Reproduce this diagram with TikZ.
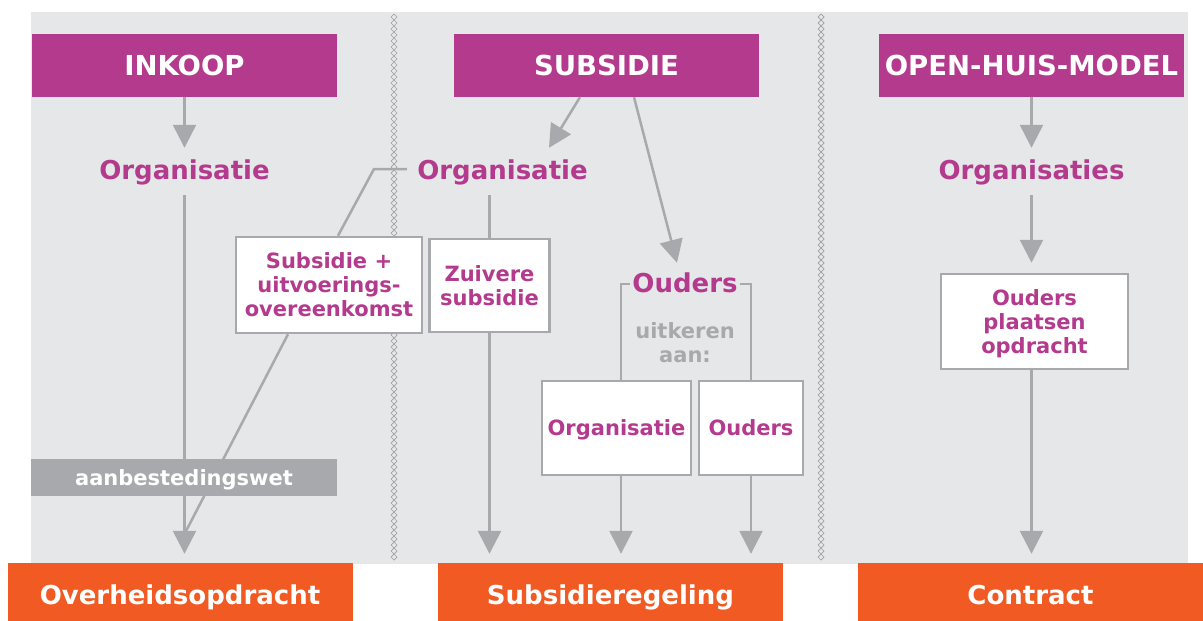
\documentclass[tikz,border=0pt]{standalone}
\usepackage{fontspec}
\setmainfont{DejaVu Sans}
\usetikzlibrary{arrows.meta,calc}
\definecolor{mag}{HTML}{B33A8D}
\definecolor{orng}{HTML}{F15A22}
\definecolor{bgg}{HTML}{E6E7E8}
\definecolor{lg}{HTML}{A7A9AC}
\definecolor{divc}{HTML}{A0A0A0}
\newcommand{\bigf}{\fontsize{26}{30}\selectfont\bfseries}
\newcommand{\ttlf}{\fontsize{27.5}{30}\selectfont\bfseries}
\newcommand{\smf}{\fontsize{21}{24}\selectfont\bfseries}
\begin{document}
\begin{tikzpicture}[x=1pt,y=-1pt,
 ttl/.style={fill=mag,text=white,font=\ttlf,minimum width=305pt,minimum height=63pt,inner sep=0pt,text height=20pt,text depth=0pt},
 bot/.style={fill=orng,text=white,font=\bigf,minimum width=345pt,minimum height=64pt,inner sep=0pt,text height=19pt,text depth=0pt},
 lbl/.style={text=mag,font=\bigf,inner sep=0pt,minimum height=47pt,text height=19pt,text depth=3pt},
 wbox/.style={fill=white,draw=lg,line width=2.5pt,text=mag,font=\smf,align=center,inner sep=0pt,text depth=0pt},
 ln/.style={draw=lg,line width=2.5pt},
 arr/.style={ln,-{Triangle[length=23pt,width=23pt]}},
 dia/.style={draw=divc,line width=0.7pt},
]
\useasboundingbox (0,0) rectangle (1203,621);
\fill[bgg] (31,12) rectangle (1188,564);
% dividers
\foreach \xx in {394,821}{
  \foreach \i in {0,...,90}{
    \draw[dia] (\xx,14+6*\i) -- ++(3,3) -- ++(-3,3) -- ++(-3,-3) -- cycle;
  }
}
% titles
\node[ttl] (inkoop) at (184.5,65.5) {INKOOP};
\node[ttl] (subs) at (606.5,65.5) {SUBSIDIE};
\node[ttl] (ohm) at (1031.5,65.5) {OPEN-HUIS-MODEL};
% labels
\node[lbl] (org1) at (184.5,171.5) {Organisatie};
\node[lbl,minimum width=191pt] (org2) at (502.5,171.5) {Organisatie};
\node[lbl] (orgs) at (1031.5,171.5) {Organisaties};
\node[lbl,minimum width=110pt,minimum height=42pt] (oud) at (685,284) {Ouders};
\node[text=lg,font=\smf,align=center,inner sep=0pt] (uitk) at (685,343) {uitkeren\\aan:};
% bottom
\node[bot] (ovh) at (180,595) {Overheidsopdracht};
\node[bot] (subr) at (610.5,595) {Subsidieregeling};
\node[bot] (contr) at (1030.5,595) {Contract};
% white boxes
\node[wbox,minimum width=186pt,minimum height=96pt] (subplus) at (329,285) {Subsidie +\\uitvoerings-\\overeenkomst};
\node[wbox,minimum width=120pt,minimum height=93pt] (zuiv) at (489.5,285.5) {Zuivere\\subsidie};
\node[wbox,minimum width=149pt,minimum height=94pt,text height=15.3pt] (orgL) at (616.5,428) {Organisatie};
\node[wbox,minimum width=104pt,minimum height=94pt,text height=15.3pt] (oudL) at (751,428) {Ouders};
\node[wbox,minimum width=187pt,minimum height=95pt] (opdr) at (1034.5,321.5) {Ouders\\plaatsen\\opdracht};
% connectors
\coordinate (j1) at (374,169);
\coordinate (j2) at (185,533);
\draw[arr] (inkoop.south) -- (org1.north);
\draw[arr,shorten >=9pt] (org1.south) -- (org1.south |- ovh.north);
\draw[ln] (org2.west |- j1) -- (j1) -- ([xshift=9pt]subplus.north);
\draw[ln] ([xshift=-41pt]subplus.south) -- (j2);
\draw[arr] ([xshift=-26.5pt]subs.south) -- ([xshift=46.5pt]org2.north);
\draw[arr] ([xshift=27.5pt]subs.south) -- ([xshift=-8pt]oud.north);
\draw[ln] (zuiv.north |- org2.south) -- (zuiv.north);
\draw[arr,shorten >=9pt] (zuiv.south) -- (zuiv.south |- subr.north);
\draw[ln] ([xshift=4.5pt]orgL.north) |- (oud.west);
\draw[ln] (oudL.north) |- (oud.east);
\draw[arr,shorten >=9pt] ([xshift=4.5pt]orgL.south) -- ([xshift=4.5pt]orgL.south |- subr.north);
\draw[arr,shorten >=9pt] (oudL.south) -- (oudL.south |- subr.north);
\draw[arr] (ohm.south) -- (orgs.north);
\draw[arr,shorten >=10pt] (orgs.south) -- (orgs.south |- opdr.north);
\draw[arr,shorten >=9pt] (orgs.south |- opdr.south) -- (orgs.south |- contr.north);
% law bar
\node[fill=lg,text=white,font=\smf,minimum width=306pt,minimum height=37pt,inner sep=0pt,text height=15.5pt,text depth=0pt] (aanb) at (184,477.5) {aanbestedingswet};
\end{tikzpicture}
\end{document}
